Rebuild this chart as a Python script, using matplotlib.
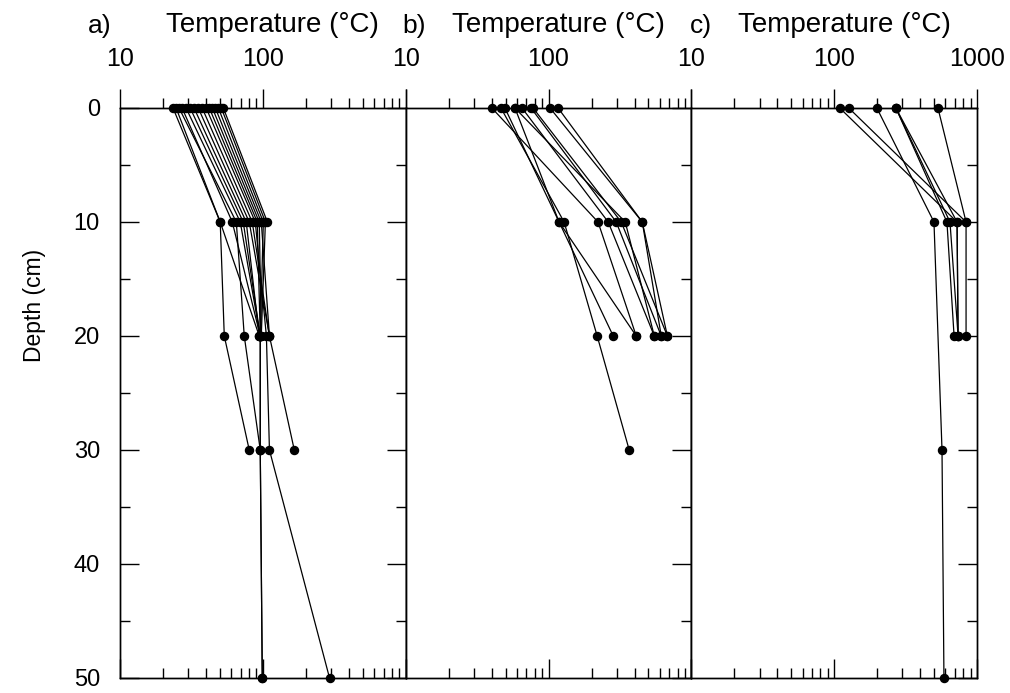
import matplotlib
matplotlib.use('Agg')
import matplotlib.pyplot as plt
from matplotlib.ticker import LogLocator, NullFormatter, FixedLocator, FixedFormatter, MultipleLocator

plt.rcParams['font.family'] = ['Liberation Sans', 'DejaVu Sans']

# ---------------- data (depth in cm, temperature in degC) ----------------
panel_labels = ['a)', 'b)', 'c)']
x_label = 'Temperature (°C)'
y_label = 'Depth (cm)'
depth_ticks = [0, 10, 20, 30, 40, 50]
temp_ticks = [10, 100, 1000]
temp_tick_labels = ['10', '100', '1000']

a_depths = [
    [0, 10, 20, 30],
    [0, 10, 20],
    [0, 10, 20, 30],
    [0, 10, 20, 30, 50],
    [0, 10, 20, 30, 50],
    [0, 10, 20],
    [0, 10, 20],
    [0, 10, 20],
    [0, 10, 20, 30],
    [0, 10, 20, 30, 50],
    [0, 10, 20],
    [0, 10, 20],
    [0, 10, 20],
    [0, 10, 20],
    [0, 10, 20],
    [0, 10],
]
a_temps = [
    [23.5, 50.3, 53.7, 80.3],
    [24.7, 50.3, 94.4],
    [25.9, 65.2, 74.1, 95.9],
    [27.2, 61.1, 95.9, 95.9, 99.1],
    [29.0, 69.5, 95.9, 95.9, 99.1],
    [31.0, 72.9, 95.9],
    [33.0, 76.5, 94.4],
    [35.3, 80.3, 111.2],
    [37.6, 84.3, 111.2, 166.0],
    [40.1, 88.5, 105.9, 111.2, 293.0],
    [42.2, 91.4, 95.9],
    [44.3, 94.4, 97.5],
    [46.5, 97.5, 111.2],
    [48.8, 100.8, 95.9],
    [51.2, 104.2, 97.5],
    [52.9, 107.6],
]

b_depths = [
    [0, 10, 20],
    [0, 10, 20, 30],
    [0, 10, 20],
    [0, 10, 20],
    [0, 10, 20],
    [0, 10, 20],
    [0, 10, 20],
    [0, 10, 20],
    [0, 10, 20],
    [0, 10, 20],
]
b_temps = [
    [40.1, 222.0, 411.0],
    [46.4, 128.5, 219.0, 367.0],
    [49.5, 118.5, 283.6],
    [58.2, 118.5, 411.0],
    [65.2, 261.6, 550.0],
    [75.4, 297.6, 615.0],
    [77.9, 322.7, 679.0],
    [102.4, 453.0, 679.0],
    [116.6, 453.0, 615.0],
    [58.2, 344.4, 550.0],
]

c_depths = [
    [0, 10, 20],
    [0, 10],
    [0, 10, 30, 50],
    [0, 10, 20],
    [0, 10, 20],
    [0, 10, 20],
    [0, 10, 20],
]
c_temps = [
    [109.3, 724.0, 736.0],
    [126.4, 837.0],
    [198.7, 499.0, 568.0, 586.0],
    [270.0, 615.0, 690.0],
    [270.0, 646.0, 736.0],
    [270.0, 724.0, 736.0],
    [532.0, 837.0, 837.0],
]

panels = [(a_depths, a_temps), (b_depths, b_temps), (c_depths, c_temps)]

# ---------------- figure ----------------
W, H = 1010, 693
fig = plt.figure(figsize=(W / 100, H / 100), dpi=100)

left0 = 120
pw = 285.7
top_px, bot_px = 108, 678
label_x_px = [88, 402, 690]

MAJ = 13.5
MIN = 7.0

for i, (deps, temps) in enumerate(panels):
    left = left0 + i * pw
    ax = fig.add_axes([left / W, (H - bot_px) / H, pw / W, (bot_px - top_px) / H])
    ax.set_xscale('log')
    ax.set_xlim(10, 1000)
    ax.set_ylim(50, 0)
    for d, t in zip(deps, temps):
        ax.plot(t, d, '-', color='black', lw=0.9, clip_on=False, zorder=3)
        ax.plot(t, d, 'o', color='black', ms=5.8, clip_on=False, zorder=4)

    for s in ax.spines.values():
        s.set_linewidth(1.0)

    # bottom ticks (inside, no labels)
    ax.xaxis.set_major_locator(FixedLocator(temp_ticks))
    ax.xaxis.set_minor_locator(LogLocator(base=10, subs=range(2, 10), numticks=20))
    ax.xaxis.set_major_formatter(NullFormatter())
    ax.xaxis.set_minor_formatter(NullFormatter())
    ax.tick_params(axis='x', which='major', direction='in', length=MAJ, width=1,
                   bottom=True, top=False, labelbottom=False)
    ax.tick_params(axis='x', which='minor', direction='in', length=MIN, width=1,
                   bottom=True, top=False)

    # y ticks: right spine of every panel, left spine only on the first
    ax.yaxis.set_major_locator(FixedLocator(depth_ticks))
    ax.yaxis.set_minor_locator(MultipleLocator(5))
    ax.tick_params(axis='y', which='both', direction='in', left=(i == 0), right=True,
                   width=1, labelsize=17, pad=14.5)
    ax.tick_params(axis='y', which='major', length=MAJ)
    ax.tick_params(axis='y', which='minor', length=MIN)
    if i != 0:
        ax.tick_params(axis='y', labelleft=False)

    # top axis (outside ticks with labels)
    tx = ax.twiny()
    tx.set_xscale('log')
    tx.set_xlim(10, 1000)
    tx.xaxis.set_major_locator(FixedLocator(temp_ticks))
    labels = list(temp_tick_labels)
    if i < 2:
        labels[-1] = ''
    tx.xaxis.set_major_formatter(FixedFormatter(labels))
    tx.xaxis.set_minor_locator(LogLocator(base=10, subs=range(2, 10), numticks=20))
    tx.xaxis.set_minor_formatter(NullFormatter())
    tx.tick_params(axis='x', which='major', direction='out', length=MAJ, width=1,
                   labelsize=18, pad=13.5)
    tx.tick_params(axis='x', which='minor', direction='out', length=MIN, width=1)
    for s in tx.spines.values():
        s.set_linewidth(1.0)

    # axis title and panel label
    cx = left + pw / 2 + 10
    fig.text(cx / W, 1 - 32 / H, x_label, ha='center', va='baseline', fontsize=20)
    fig.text(label_x_px[i] / W, 1 - 33 / H, panel_labels[i], ha='left', va='baseline',
             fontsize=19)

fig.text(35 / W, 1 - 305 / H, y_label, rotation=90, ha='center', va='center', fontsize=16.5)

fig.savefig('out.png', dpi=100)
